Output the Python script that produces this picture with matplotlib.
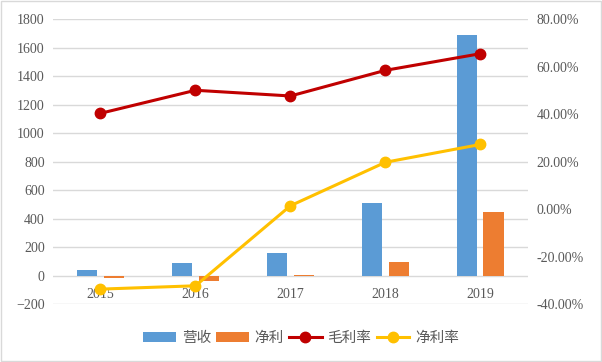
import matplotlib
matplotlib.use("Agg")
import matplotlib.pyplot as plt
import matplotlib.transforms as mtrans
from matplotlib.patches import Rectangle
from matplotlib.ticker import FuncFormatter
import numpy as np

years = ["2015", "2016", "2017", "2018", "2019"]
revenue = [40, 85, 155, 510, 1685]
net_profit = [-20, -35, 5, 97, 448]
gross_margin = [40.3, 50.0, 47.6, 58.4, 65.4]
net_margin = [-33.7, -32.3, 1.4, 19.7, 27.2]

label_color = "#595959"
serif = ["Liberation Serif", "DejaVu Serif"]
cjk = ["Noto Sans CJK SC", "DejaVu Sans"]

fig = plt.figure(figsize=(6.02, 3.62), dpi=100)
fig.patches.append(Rectangle((0.002, 0.003), 0.996, 0.994, transform=fig.transFigure,
                             fill=False, edgecolor="#d9d9d9", linewidth=1.0))
ax = fig.add_axes([0.088, 0.160, 0.789, 0.7875])
x = np.arange(len(years))
w = 0.22
off = 0.142
b1 = ax.bar(x - off, revenue, w, color="#5B9BD5", label="营收", zorder=2)
b2 = ax.bar(x + off, net_profit, w, color="#ED7D31", label="净利", zorder=2)
ax.set_xlim(-0.5, 4.5)
ax.set_ylim(-200, 1800)
ax.set_yticks(np.arange(-200, 1801, 200))
ax.set_xticks([])
ax.grid(axis="y", color="#d9d9d9", linewidth=1.0, zorder=0)
ax.set_axisbelow(True)
for s in ax.spines.values():
    s.set_visible(False)
ax.tick_params(axis="y", length=0, pad=6, labelcolor=label_color, labelsize=10)
for lab in ax.get_yticklabels():
    lab.set_fontfamily(serif)

# category labels near zero line
trans = ax.transData + mtrans.ScaledTranslation(0, -12 / 100, fig.dpi_scale_trans)
for i, yl in enumerate(years):
    ax.text(i, 0, yl, ha="center", va="top", transform=trans, fontsize=10,
            color=label_color, family=serif, zorder=1)

ax2 = ax.twinx()
ax2.set_ylim(-40, 80)
ax2.set_yticks(np.arange(-40, 81, 20))
ax2.yaxis.set_major_formatter(FuncFormatter(lambda v, p: f"{v:.2f}%"))
for s in ax2.spines.values():
    s.set_visible(False)
ax2.tick_params(axis="y", length=0, pad=6, labelcolor=label_color, labelsize=10)
for lab in ax2.get_yticklabels():
    lab.set_fontfamily(serif)
l1, = ax2.plot(x, gross_margin, color="#C00000", linewidth=2.2, marker="o",
               markersize=7.5, label="毛利率", zorder=3)
l2, = ax2.plot(x, net_margin, color="#FFC000", linewidth=2.2, marker="o",
               markersize=7.5, label="净利率", zorder=3)

fig.legend([b1, b2, l1, l2], ["营收", "净利", "毛利率", "净利率"], loc="center",
           bbox_to_anchor=(0.5, 0.066), ncol=4, frameon=False,
           prop={"family": cjk, "size": 10.5}, handlelength=2.25, handleheight=0.7,
           columnspacing=0.35, handletextpad=0.4, labelcolor=label_color)

fig.savefig("out.png", dpi=100)
